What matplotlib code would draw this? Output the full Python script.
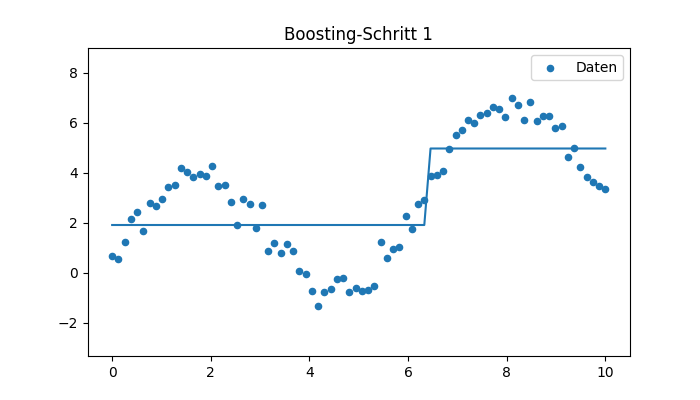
import numpy as np
import matplotlib
matplotlib.use('Agg')
import matplotlib.pyplot as plt

# Daten (80 Punkte auf 0..10)
x = np.linspace(0, 10, 80)
y = np.array([
    0.68, 0.56, 1.23, 2.15, 2.43, 1.67, 2.79, 2.67, 2.95, 3.43,
    3.51, 4.19, 4.03, 3.83, 3.95, 3.87, 4.27, 3.47, 3.51, 2.83,
    1.91, 2.95, 2.75, 1.79, 2.71, 0.87, 1.19, 0.79, 1.15, 0.88,
    0.08, -0.05, -0.73, -1.33, -0.77, -0.64, -0.25, -0.21, -0.77, -0.61,
    -0.73, -0.69, -0.53, 1.23, 0.59, 0.95, 1.03, 2.27, 1.75, 2.75,
    2.91, 3.87, 3.91, 4.07, 4.95, 5.51, 5.71, 6.11, 5.99, 6.31,
    6.39, 6.64, 6.55, 6.23, 6.99, 6.71, 6.11, 6.83, 6.07, 6.27,
    6.27, 5.79, 5.87, 4.63, 4.99, 4.23, 3.83, 3.63, 3.47, 3.35,
])

# Stumpf-Vorhersage nach Schritt 1
split = 6.39
level_low = 1.91
level_high = 4.97
pred = np.where(x < split, level_low, level_high)

fig, ax = plt.subplots(figsize=(7, 4), dpi=100)
ax.scatter(x, y, s=20, color='#1f77b4', label='Daten')
ax.plot(x, pred, color='#1f77b4')
ax.set_ylim(y.min() - 2, y.max() + 2)
ax.set_title('Boosting-Schritt 1')
ax.legend(loc='upper right')

plt.savefig('out.png')
